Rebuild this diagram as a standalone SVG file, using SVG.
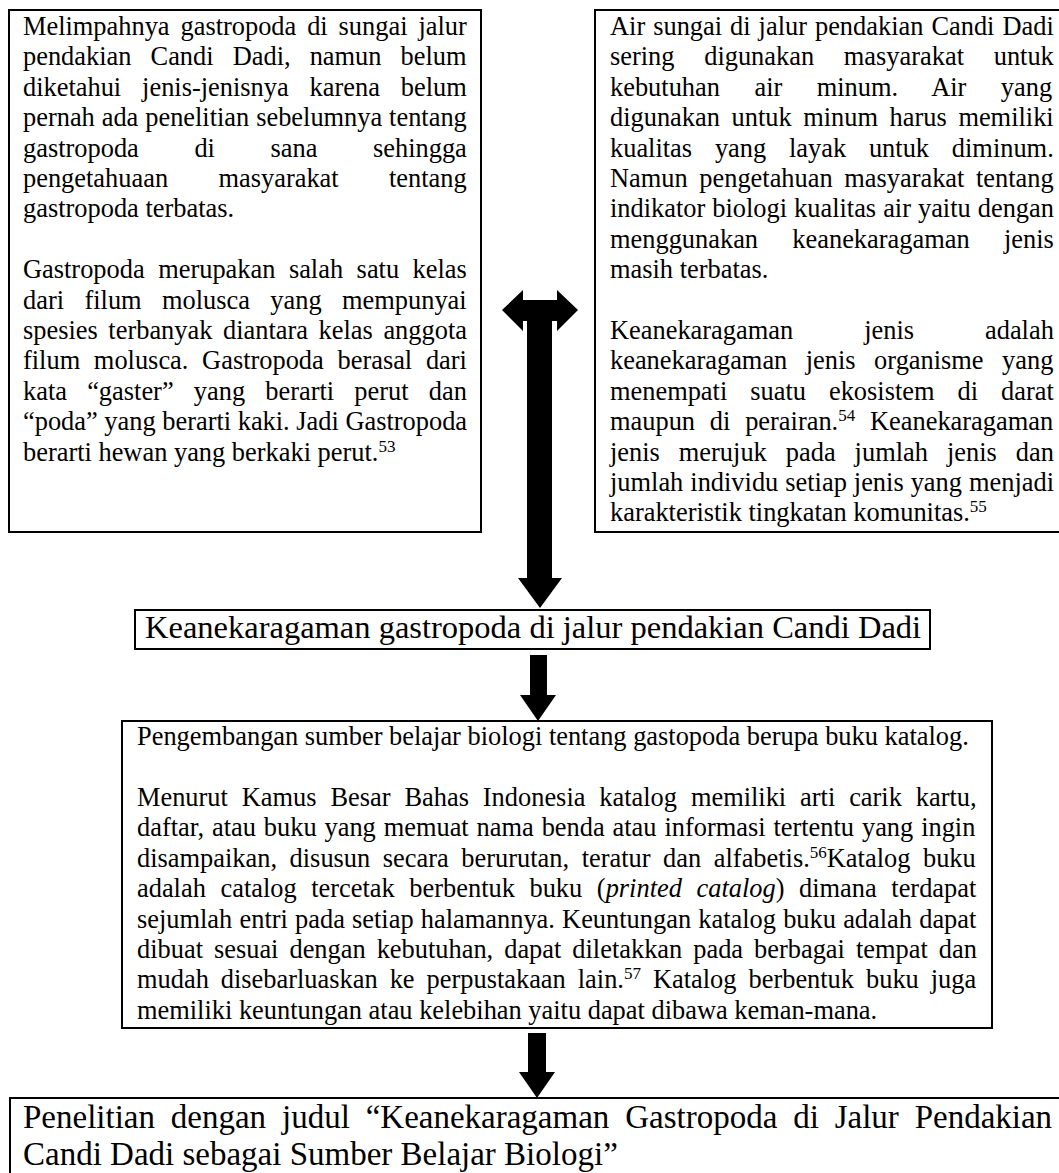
<svg xmlns="http://www.w3.org/2000/svg" width="1059" height="1173" viewBox="0 0 1059 1173">
<style>
.box{fill:#fff;stroke:#000;stroke-width:2}
.t{font-family:"Liberation Serif","Times New Roman",serif;font-size:26.4px;fill:#000}
.big{font-size:32.5px}
.bot{font-size:33px}
.sup{font-size:17px}
.arrow{fill:#000}
</style>
<rect width="1059" height="1173" fill="#fff"/>

<g id="node-gastropoda">
<rect class="box" x="9" y="10" width="472" height="522"/>
<text class="t" x="23" y="35" style="word-spacing:4.3px">Melimpahnya gastropoda di sungai jalur</text>
<text class="t" x="23" y="65.4" style="word-spacing:12.5px">pendakian Candi Dadi, namun belum</text>
<text class="t" x="23" y="95.8" style="word-spacing:14.3px">diketahui jenis-jenisnya karena belum</text>
<text class="t" x="23" y="126.2" style="word-spacing:0.3px">pernah ada penelitian sebelumnya tentang</text>
<text class="t" x="23" y="156.6" style="word-spacing:49px">gastropoda di sana sehingga</text>
<text class="t" x="23" y="187" style="word-spacing:43.8px">pengetahuaan masyarakat tentang</text>
<text class="t" x="23" y="217.4">gastropoda terbatas.</text>
<text class="t" x="23" y="278.2" style="word-spacing:6.9px">Gastropoda merupakan salah satu kelas</text>
<text class="t" x="23" y="308.6" style="word-spacing:13.8px">dari filum molusca yang mempunyai</text>
<text class="t" x="23" y="339" style="word-spacing:4px">spesies terbanyak diantara kelas anggota</text>
<text class="t" x="23" y="369.4" style="word-spacing:7.1px">filum molusca. Gastropoda berasal dari</text>
<text class="t" x="23" y="399.8" style="word-spacing:13.6px">kata “gaster” yang berarti perut dan</text>
<text class="t" x="23" y="430.2">“poda” yang berarti kaki. Jadi Gastropoda</text>
<text class="t" x="23" y="460.6">berarti hewan yang berkaki perut.<tspan class="sup" dy="-9">53</tspan></text>
</g>

<g id="node-air-sungai">
<rect class="box" x="595" y="10" width="480" height="522"/>
<text class="t" x="610" y="35" style="word-spacing:1.4px">Air sungai di jalur pendakian Candi Dadi</text>
<text class="t" x="610" y="65.4" style="word-spacing:23.1px">sering digunakan masyarakat untuk</text>
<text class="t" x="610" y="95.8" style="word-spacing:27.9px">kebutuhan air minum. Air yang</text>
<text class="t" x="610" y="126.2" style="word-spacing:5px">digunakan untuk minum harus memiliki</text>
<text class="t" x="610" y="156.6" style="word-spacing:16.2px">kualitas yang layak untuk diminum.</text>
<text class="t" x="610" y="187" style="word-spacing:5px">Namun pengetahuan masyarakat tentang</text>
<text class="t" x="610" y="217.4" style="word-spacing:0.4px">indikator biologi kualitas air yaitu dengan</text>
<text class="t" x="610" y="247.8" style="word-spacing:27.7px">menggunakan keanekaragaman jenis</text>
<text class="t" x="610" y="278.2">masih terbatas.</text>
<text class="t" x="610" y="339" style="word-spacing:64.4px">Keanekaragaman jenis adalah</text>
<text class="t" x="610" y="369.4" style="word-spacing:11.9px">keanekaragaman jenis organisme yang</text>
<text class="t" x="610" y="399.8" style="word-spacing:16.4px">menempati suatu ekosistem di darat</text>
<text class="t" x="610" y="430.2" style="word-spacing:8.2px">maupun di perairan.<tspan class="sup" dy="-9">54</tspan><tspan dy="9"> Keanekaragaman</tspan></text>
<text class="t" x="610" y="460.6" style="word-spacing:12.4px">jenis merujuk pada jumlah jenis dan</text>
<text class="t" x="610" y="491" style="word-spacing:0.4px">jumlah individu setiap jenis yang menjadi</text>
<text class="t" x="610" y="521.4">karakteristik tingkatan komunitas.<tspan class="sup" dy="-9">55</tspan></text>
</g>

<g id="node-keanekaragaman">
<rect class="box" x="135" y="610" width="795" height="39"/>
<text class="t big" x="145" y="638">Keanekaragaman gastropoda di jalur pendakian Candi Dadi</text>
</g>

<g id="node-katalog">
<rect class="box" x="122" y="721" width="870" height="307"/>
<text class="t" x="137" y="745">Pengembangan sumber belajar biologi tentang gastopoda berupa buku katalog.</text>
<text class="t" x="137" y="806" style="word-spacing:7.3px">Menurut Kamus Besar Bahas Indonesia katalog memiliki arti carik kartu,</text>
<text class="t" x="137" y="836.4" style="word-spacing:1.3px">daftar, atau buku yang memuat nama benda atau informasi tertentu yang ingin</text>
<text class="t" x="137" y="866.8" style="word-spacing:6px">disampaikan, disusun secara berurutan, teratur dan alfabetis.<tspan class="sup" dy="-9">56</tspan><tspan dy="9">Katalog buku</tspan></text>
<text class="t" x="137" y="897.2" style="word-spacing:8px">adalah catalog tercetak berbentuk buku (<tspan font-style="italic">printed catalog</tspan>) dimana terdapat</text>
<text class="t" x="137" y="927.6" style="word-spacing:0.6px">sejumlah entri pada setiap halamannya. Keuntungan katalog buku adalah dapat</text>
<text class="t" x="137" y="958" style="word-spacing:4.4px">dibuat sesuai dengan kebutuhan, dapat diletakkan pada berbagai tempat dan</text>
<text class="t" x="137" y="988.4" style="word-spacing:5.4px">mudah disebarluaskan ke perpustakaan lain.<tspan class="sup" dy="-9">57</tspan><tspan dy="9"> Katalog berbentuk buku juga</tspan></text>
<text class="t" x="137" y="1018.8">memiliki keuntungan atau kelebihan yaitu dapat dibawa keman-mana.</text>
</g>

<g id="node-penelitian">
<rect class="box" x="10" y="1098" width="1070" height="100"/>
<text class="t bot" x="23" y="1128" style="word-spacing:7.6px">Penelitian dengan judul “Keanekaragaman Gastropoda di Jalur Pendakian</text>
<text class="t bot" x="23" y="1165">Candi Dadi sebagai Sumber Belajar Biologi”</text>
</g>

<g id="connectors">
<path class="arrow" d="M502,310 L523,290 L523,300 L557,300 L557,290 L578,310 L557,331 L557,321 L552,321 L552,578 L562,578 L540,608 L518,578 L527,578 L527,321 L523,321 L523,331 Z"/>
<path class="arrow" d="M530,655 H547 V695 H556 L538,721 L520,695 H530 Z"/>
<path class="arrow" d="M528,1033 H546 V1072 H555 L537,1098 L519,1072 H528 Z"/>
</g>
</svg>
